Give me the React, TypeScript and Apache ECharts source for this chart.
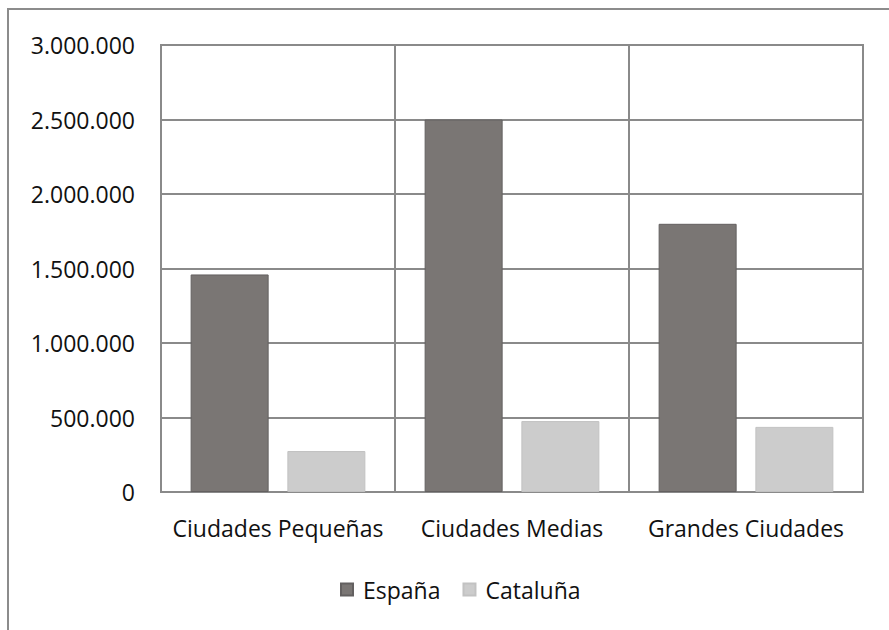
import React, { useEffect, useRef } from "react";
import * as echarts from "echarts";

// Categories and population values per city size
const categories = ["Ciudades Pequeñas", "Ciudades Medias", "Grandes Ciudades"];
const espana = [1460000, 2500000, 1800000];
const cataluna = [275000, 476000, 437000];
const seriesNames = ["España", "Cataluña"];

const FONT = "'Open Sans', sans-serif";
const GRID_COLOR = "#8a8a8a";
const TEXT_COLOR = "#111111";

const fmt = (v: number) =>
  String(v).replace(/\B(?=(\d{3})+(?!\d))/g, ".");

export default function App() {
  const ref = useRef<HTMLDivElement>(null);

  useEffect(() => {
    if (!ref.current) return;
    const chart = echarts.init(ref.current, undefined, { renderer: "svg" });
    chart.setOption({
      animation: false,
      backgroundColor: "#ffffff",
      textStyle: { fontFamily: FONT },
      graphic: [
        {
          type: "rect",
          shape: { x: 8, y: 9, width: 1000, height: 800 },
          style: { fill: "none", stroke: "#8c8c8c", lineWidth: 2 },
          silent: true,
        },
      ],
      grid: {
        left: 161,
        top: 45,
        right: 26,
        bottom: 138,
        containLabel: false,
        show: true,
        borderColor: GRID_COLOR,
        borderWidth: 2,
      },
      legend: {
        data: seriesNames,
        left: 335,
        top: 573,
        itemWidth: 12,
        itemHeight: 12,
        itemGap: 22,
        icon: "rect",
        textStyle: {
          fontFamily: FONT,
          fontSize: 23,
          color: TEXT_COLOR,
          padding: [0, 0, 0, 5],
        },
      },
      xAxis: {
        type: "category",
        data: categories,
        axisLine: { show: true, lineStyle: { color: GRID_COLOR, width: 2 } },
        axisTick: { show: false },
        splitLine: {
          show: true,
          interval: 0,
          lineStyle: { color: GRID_COLOR, width: 2 },
        },
        axisLabel: {
          interval: 0,
          fontFamily: FONT,
          fontSize: 23,
          color: TEXT_COLOR,
          margin: 24,
        },
      },
      yAxis: {
        type: "value",
        min: 0,
        max: 3000000,
        interval: 500000,
        axisLine: { show: true, lineStyle: { color: GRID_COLOR, width: 2 } },
        axisTick: { show: false },
        splitLine: { show: true, lineStyle: { color: GRID_COLOR, width: 2 } },
        axisLabel: {
          fontFamily: FONT,
          fontSize: 23,
          color: TEXT_COLOR,
          margin: 26,
          formatter: (v: number) => fmt(v),
        },
      },
      series: [
        {
          name: seriesNames[0],
          type: "bar",
          data: espana,
          barWidth: 78,
          barGap: "24%",
          itemStyle: { color: "#7a7674", borderColor: "#636060", borderWidth: 1 },
        },
        {
          name: seriesNames[1],
          type: "bar",
          data: cataluna,
          barWidth: 78,
          barGap: "24%",
          itemStyle: { color: "#cccccc", borderColor: "#c2c2c2", borderWidth: 1 },
        },
      ],
    });
    return () => chart.dispose();
  }, []);

  return (
    <div
      ref={ref}
      style={{ position: "absolute", left: 0, top: 0, width: 889, height: 630 }}
    />
  );
}
